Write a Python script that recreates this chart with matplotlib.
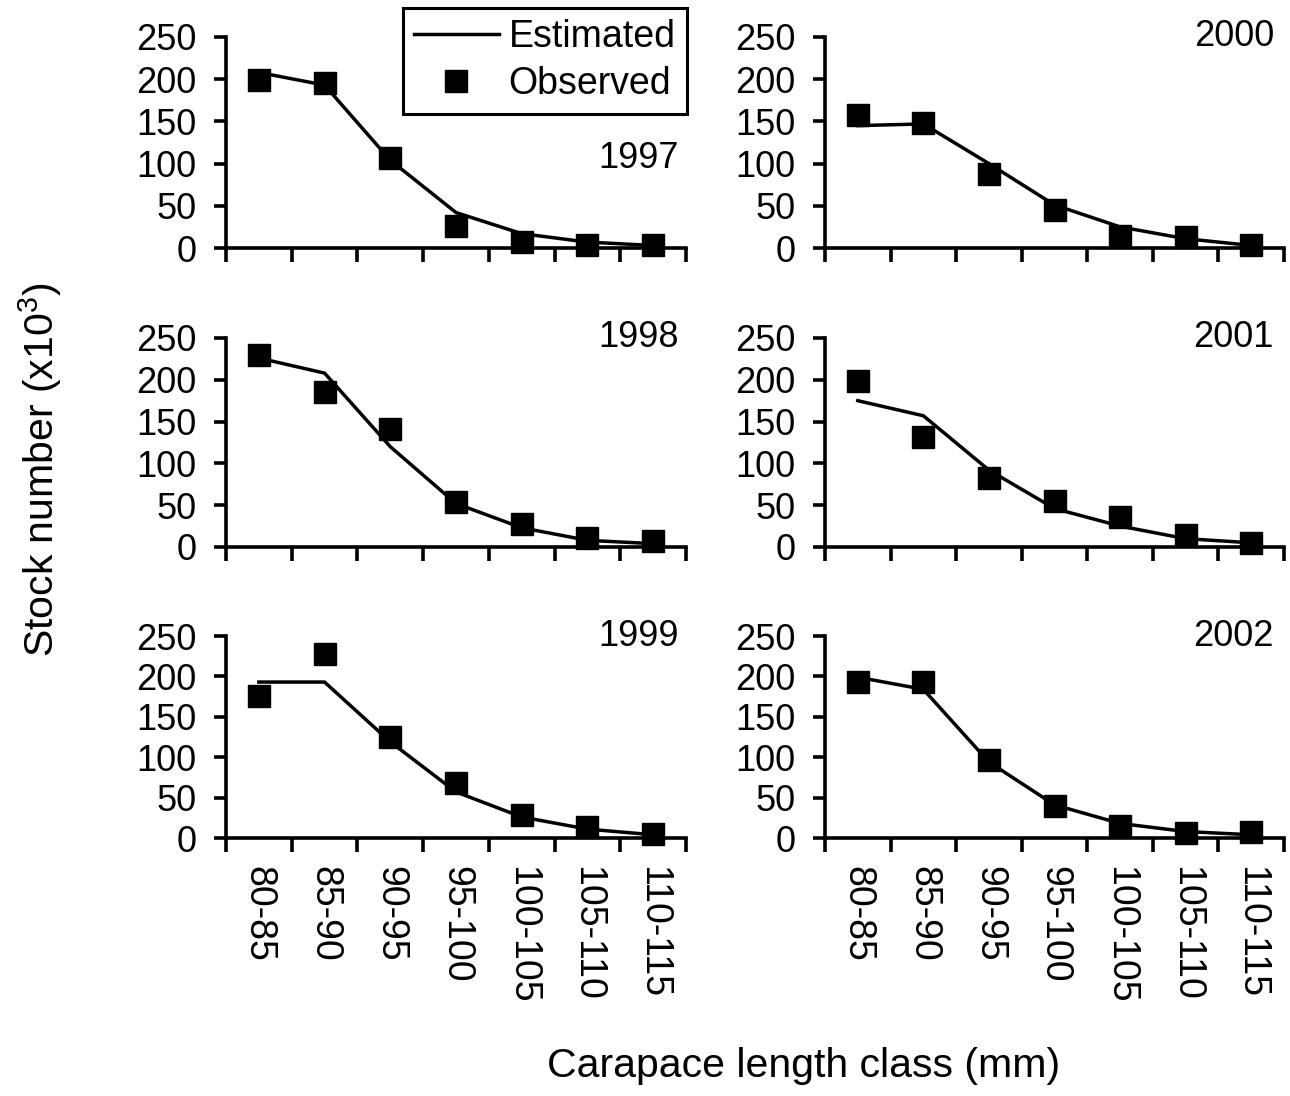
import matplotlib.pyplot as plt
import numpy as np

plt.rcParams['font.family'] = ['Liberation Sans', 'DejaVu Sans']
plt.rcParams['mathtext.fontset'] = 'custom'
plt.rcParams['mathtext.rm'] = 'Liberation Sans'

# length classes (mm)
classes = ['80-85', '85-90', '90-95', '95-100', '100-105', '105-110', '110-115']

# stock numbers (x10^3) per year, observed and model estimate
obs_1997 = [199, 196, 107, 26, 7, 3, 3]
est_1997 = [208, 193, 104, 42, 17, 7, 3]
obs_1998 = [230, 185, 141, 54, 28, 11, 7]
est_1998 = [226, 208, 120, 52, 23, 8, 4]
obs_1999 = [176, 228, 125, 68, 28, 13, 5]
est_1999 = [193, 193, 119, 57, 26, 11, 4]
obs_2000 = [158, 148, 88, 45, 14, 13, 3]
est_2000 = [145, 147, 100, 51, 25, 11, 3]
obs_2001 = [198, 131, 83, 55, 36, 14, 5]
est_2001 = [175, 157, 92, 46, 25, 10, 5]
obs_2002 = [193, 193, 96, 39, 15, 6, 8]
est_2002 = [199, 184, 94, 41, 18, 8, 4]

panels = [
    ('1997', obs_1997, est_1997, 0, 0),
    ('1998', obs_1998, est_1998, 1, 0),
    ('1999', obs_1999, est_1999, 2, 0),
    ('2000', obs_2000, est_2000, 0, 1),
    ('2001', obs_2001, est_2001, 1, 1),
    ('2002', obs_2002, est_2002, 2, 1),
]

W, H = 1290, 1096
fig = plt.figure(figsize=(W / 100, H / 100), dpi=100)

# panel frames in pixels
col_x = [(226, 686), (825, 1284)]
row_y = [(37, 248), (338, 547), (636, 838)]

fs_tick = 26
fs_text = 27
fs_title = 29.5
x = np.arange(len(classes))

axes = {}
for year, obs, est, r, c in panels:
    x0, x1 = col_x[c]
    yt, yb = row_y[r]
    ax = fig.add_axes([x0 / W, 1 - yb / H, (x1 - x0) / W, (yb - yt) / H])
    axes[(r, c)] = ax
    ax.plot(x, est, color='black', lw=2.5, zorder=2, label='Estimated', clip_on=False)
    ax.plot(x, obs, ls='none', marker='s', ms=16.5, color='black', zorder=3,
            label='Observed', clip_on=False)
    ax.set_xlim(-0.5, len(classes) - 0.5)
    ax.set_ylim(0, 250)
    ax.set_yticks(np.arange(0, 251, 50))
    ax.set_xticks(np.arange(-0.5, len(classes), 1.0))
    ax.set_xticklabels([])
    ax.set_xticks(x, minor=True)
    if r == 2:
        ax.set_xticklabels(classes, minor=True, rotation=270, fontsize=fs_text,
                           va='top', ha='center')
    ax.tick_params(axis='x', which='major', direction='out', length=10, width=2.6)
    ax.tick_params(axis='x', which='minor', length=0, pad=20)
    ax.tick_params(axis='y', direction='out', length=9, width=2.6, labelsize=fs_tick, pad=12)
    for s in ['top', 'right']:
        ax.spines[s].set_visible(False)
    for s in ['left', 'bottom']:
        ax.spines[s].set_linewidth(2.6)
    if year == '1997':
        ax.text(0.985, (yb - 158) / (yb - yt), year, transform=ax.transAxes,
                ha='right', va='center', fontsize=fs_tick)
    else:
        ax.text(0.985 if c == 0 else 0.978, 1.0, year, transform=ax.transAxes,
                ha='right', va='center', fontsize=fs_tick)

leg = axes[(0, 0)].legend(loc='upper right', bbox_to_anchor=(1.002, (248 - 8) / (248 - 37)),
                          fontsize=fs_text, frameon=True, fancybox=False, edgecolor='black',
                          framealpha=1, handlelength=2.25, handletextpad=0.27,
                          labelspacing=0.3, borderpad=0.3, borderaxespad=0)
leg.get_frame().set_linewidth(2.2)

fig.text(804 / W, 1 - 1066 / H, 'Carapace length class (mm)', ha='center', va='center',
         fontsize=fs_title)
fig.text(40 / W, 1 - 470 / H, r'Stock number (x10$^\mathregular{3}$)', rotation=90,
         ha='center', va='center', fontsize=fs_title)

fig.savefig('out.png', dpi=100)
